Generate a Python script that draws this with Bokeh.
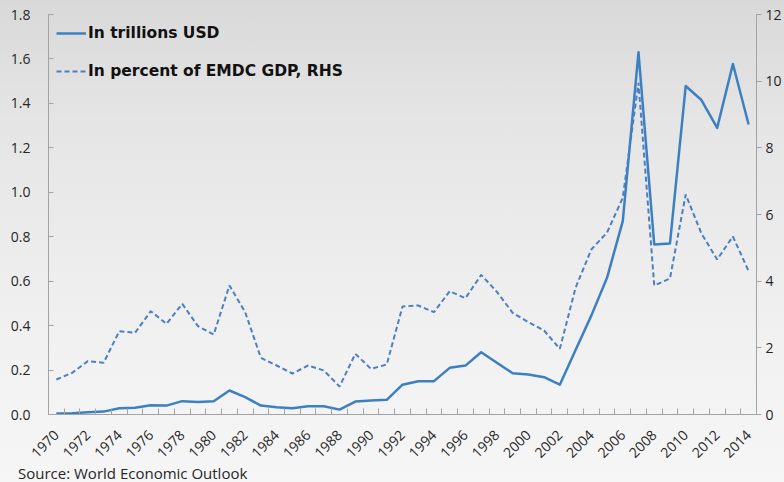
from math import pi
from bokeh.plotting import figure
from bokeh.layouts import column
from bokeh.models import Range1d, LinearAxis, FixedTicker, Div, PrintfTickFormatter
from bokeh.embed import file_html
from bokeh.resources import INLINE

years = list(range(1970, 2015))
usd_trillions = [0.004, 0.006, 0.010, 0.013, 0.028, 0.030, 0.042, 0.040, 0.060, 0.056,
                 0.060, 0.108, 0.078, 0.040, 0.033, 0.028, 0.037, 0.037, 0.022, 0.058,
                 0.063, 0.066, 0.134, 0.150, 0.150, 0.210, 0.220, 0.280, 0.233, 0.186,
                 0.180, 0.168, 0.134, 0.290, 0.445, 0.615, 0.870, 1.630, 0.765, 0.770,
                 1.478, 1.415, 1.290, 1.577, 1.305]
pct_gdp = [1.05, 1.25, 1.60, 1.55, 2.50, 2.45, 3.10, 2.72, 3.32, 2.65,
           2.40, 3.87, 3.07, 1.70, 1.47, 1.23, 1.47, 1.32, 0.84, 1.82,
           1.37, 1.50, 3.24, 3.27, 3.07, 3.70, 3.49, 4.19, 3.68, 3.05,
           2.77, 2.52, 1.97, 3.80, 4.95, 5.46, 6.50, 9.95, 3.87, 4.08,
           6.60, 5.43, 4.65, 5.34, 4.30]
left_ticks = [0.0, 0.2, 0.4, 0.6, 0.8, 1.0, 1.2, 1.4, 1.6, 1.8]
right_ticks = [0, 2, 4, 6, 8, 10, 12]
label_years = list(range(1970, 2015, 2))
series_names = ["In trillions USD", "In percent of EMDC GDP, RHS"]
source_text = "Source: World Economic Outlook"

FONT = "Open Sans"
TXT = "#262626"
AX = "#a3a3a3"
GRADIENT = "linear-gradient(to bottom, #d9d9d9 0%, #e5e5e5 25%, #ececec 50%, #f2f2f2 75%, #f6f6f6 100%)"

p = figure(width=784, height=470, output_backend="svg", toolbar_location=None,
           x_range=Range1d(1969.5, 2014.5), y_range=Range1d(0, 1.8),
           min_border_left=48, min_border_right=28, min_border_top=14, min_border_bottom=56)
p.border_fill_color = None
p.background_fill_color = None
p.outline_line_color = None
p.xgrid.visible = False
p.ygrid.visible = False

p.extra_y_ranges = {"pct": Range1d(0, 12)}

p.line(years, usd_trillions, line_color="#3d80c2", line_width=2.5, line_join="round",
       legend_label=series_names[0])
p.line(years, pct_gdp, line_color="#4b7fc0", line_width=2, line_dash="5 3",
       y_range_name="pct", legend_label=series_names[1])

# x axis
xa = p.xaxis[0]
xa.ticker = FixedTicker(ticks=label_years, minor_ticks=[y + 0.5 for y in range(1969, 2015)])
xa.major_tick_line_color = None
xa.major_tick_out = 0
xa.major_tick_in = 0
xa.minor_tick_in = 6
xa.minor_tick_out = 0
xa.minor_tick_line_color = AX
xa.axis_line_color = AX
xa.major_label_orientation = pi / 4
xa.major_label_standoff = 18
xa.major_label_text_font = FONT
xa.major_label_text_font_size = "14px"
xa.major_label_text_color = TXT

# left axis
ya = p.yaxis[0]
ya.ticker = FixedTicker(ticks=left_ticks)
ya.formatter = PrintfTickFormatter(format="%.1f")
ya.major_tick_in = 5
ya.major_tick_out = 0
ya.minor_tick_line_color = None
ya.axis_line_color = AX
ya.major_tick_line_color = AX
ya.major_label_standoff = 18
ya.major_label_text_font = FONT
ya.major_label_text_font_size = "14px"
ya.major_label_text_color = TXT

# right axis
ra = LinearAxis(y_range_name="pct", ticker=FixedTicker(ticks=right_ticks))
ra.major_tick_in = 0
ra.major_tick_out = 5
ra.minor_tick_line_color = None
ra.axis_line_color = AX
ra.major_tick_line_color = AX
ra.major_label_standoff = 4
ra.major_label_text_font = FONT
ra.major_label_text_font_size = "14px"
ra.major_label_text_color = TXT
p.add_layout(ra, "right")

# legend
lg = p.legend[0]
lg.location = "top_left"
lg.background_fill_alpha = 0
lg.border_line_alpha = 0
lg.label_text_font = "DejaVu Sans"
lg.label_text_font_style = "bold"
lg.label_text_font_size = "15.5px"
lg.label_text_color = "#111111"
lg.glyph_width = 30
lg.glyph_height = 22
lg.label_height = 22
lg.spacing = 16
lg.padding = 7
lg.margin = 1
lg.label_standoff = 2

src = Div(text=source_text, width=784, height=12,
          styles={"font-family": "'Open Sans'", "font-size": "15px", "color": TXT,
                  "padding-left": "13px", "line-height": "6px", "white-space": "nowrap",
                  "overflow": "visible", "position": "relative", "top": "-5px"})

layout = column(p, src, spacing=0, styles={"background": GRADIENT})

open("out.html", "w").write(file_html(layout, INLINE))
